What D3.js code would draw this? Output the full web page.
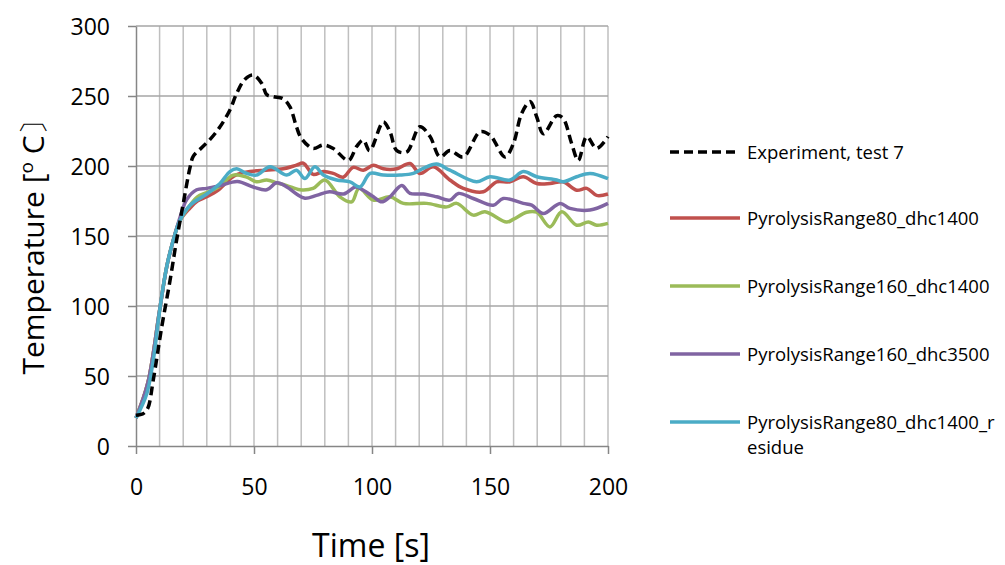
<!DOCTYPE html>
<html>
<head>
<meta charset="utf-8">
<script src="https://cdn.jsdelivr.net/npm/d3@7"></script>
<style>
  body { margin: 0; background: #fff; }
  text { font-family: "Open Sans", "Liberation Sans", sans-serif; fill: #000; }
</style>
</head>
<body>
<div id="chart"></div>
<script>
// Series data: [time (s), temperature (C)]
var experiment = [[0,22],[3,23],[5,27],[7.3,47],[10.9,85],[14.4,118],[17.2,147],[20,173],[22.9,199],[24.3,207],[27.8,213],[31.4,219],[35.6,228],[39.8,240],[42.7,252],[46.2,262],[49.7,265],[53.3,259],[55.4,251],[58.2,249.5],[62.4,248],[65.3,242],[68,228],[70,220],[75,212.5],[79.4,215],[83.6,212.5],[90,204],[93.5,214],[96.3,218.5],[99,211],[104.8,231.5],[107.6,224.5],[110.5,211],[114.7,210],[120.3,228],[124.6,221],[128.8,206.5],[133,211],[138.7,206.5],[145.8,224.5],[150,222],[156.4,206.5],[159.9,216],[163.4,237.5],[167,246],[169.8,235],[172.6,223],[178.3,236],[181,234],[184.6,216],[187.4,204],[191,221],[195.2,212.6],[200,221]];

var range80 = [[0,20],[5,45],[10,97],[13,128],[15.8,147],[18.6,161],[22.9,170],[26,175],[30,178],[35,183],[40,191],[43,194],[48.3,196],[55,197],[62.4,198],[68,200.6],[70.9,202],[75.1,194],[79.4,196],[83.6,194.7],[87.8,192],[92,199],[96.3,197],[100.6,200.5],[104.8,198],[110.5,198],[116.1,201.8],[120.3,194.7],[126,199.4],[133,190],[138.7,184],[147.2,181.6],[152.8,188.7],[158.5,188.7],[164.1,192.3],[169.8,187.5],[175.4,187.5],[181,188.7],[186.7,182.7],[191,184],[195.2,179],[200,180]];

var range160 = [[0,20],[5,45],[10,97],[13,128],[15.8,147],[18.6,161],[22.9,172],[26,178],[30,181],[35,185],[41.2,193.5],[46.9,192],[51.1,188.7],[55.4,190],[59.6,188],[63.9,186],[69.5,183],[75,184],[80,190],[86.4,178],[91.4,174.4],[94.5,184],[100.6,175.6],[107.6,178],[113.3,173.3],[123.2,173.3],[131.7,170.8],[135.9,173.3],[142.9,164.9],[147.9,167.3],[157,160],[160,162],[165.5,167],[169.8,167],[175.4,156.5],[180.4,167.3],[186.7,157.7],[191.7,160],[195.2,157.7],[200,159]];

var range160dhc3500 = [[0,20],[5,45],[10,97],[13,128],[15.8,147],[18.6,163],[21.5,176],[25.7,183],[30,184],[35.6,186],[43,189],[49.7,185],[55.4,183],[59.6,188],[63.9,185],[68,180],[71.6,177],[76.5,179],[82,181.6],[88,180],[93,185],[96.3,182.7],[100.6,178],[104.1,174.4],[107.6,178],[112.6,186],[116.1,180.4],[121.7,180],[127.4,178],[133,175.6],[136.6,180.4],[142.9,176.8],[151.4,172],[155.6,176.8],[164.1,173.3],[167.7,172],[172.6,166],[179.7,173.3],[183.9,169.7],[192.4,168.5],[200,173.3]];

var range80residue = [[0,20],[4.5,37],[7.3,61],[10.2,99],[13,128],[15.8,147],[18.6,161],[22.9,172],[30,180],[35.6,187.5],[39.8,196],[42.7,198],[46.5,195],[51,193.5],[56.8,199.4],[63.9,193.5],[68,197],[71.6,191],[75.8,199.4],[79.4,193.5],[85,190],[90.7,188.7],[94.9,185],[99.2,194.7],[104.8,193.5],[111.9,193.5],[117.5,194.7],[121.7,198.3],[127.4,201.4],[133,197],[144.3,188.7],[150,192.3],[158.5,190],[164.1,196],[169.8,192.3],[178.3,190],[181,188.7],[186.7,192.3],[192.4,194.7],[200,191]];

var seriesNames = ["Experiment, test 7", "PyrolysisRange80_dhc1400", "PyrolysisRange160_dhc1400",
                   "PyrolysisRange160_dhc3500", "PyrolysisRange80_dhc1400_residue"];
var seriesColors = ["#000000", "#C0504D", "#9BBB59", "#8064A2", "#4BACC6"];
var xTicks = [0, 50, 100, 150, 200];
var yTicks = [0, 50, 100, 150, 200, 250, 300];

var w = 1005, h = 565;
var margin = { left: 136, top: 26, right: 397, bottom: 119 };

var svg = d3.select("#chart").append("svg")
    .attr("width", w)
    .attr("height", h);

var x = d3.scaleLinear().domain([0, 200]).range([margin.left, w - margin.right]);
var y = d3.scaleLinear().domain([0, 300]).range([h - margin.bottom, margin.top]);

// vertical gridlines every 10 s
svg.append("g")
    .selectAll("line")
    .data(d3.range(10, 201, 10))
    .enter()
    .append("line")
    .attr("x1", function (d) { return x(d); })
    .attr("x2", function (d) { return x(d); })
    .attr("y1", y(0))
    .attr("y2", y(300))
    .attr("stroke", "#bfbfbf")
    .attr("stroke-width", 1.5);

// horizontal gridlines
svg.append("g")
    .selectAll("line")
    .data(yTicks.slice(1))
    .enter()
    .append("line")
    .attr("x1", x(0))
    .attr("x2", x(200))
    .attr("y1", function (d) { return y(d); })
    .attr("y2", function (d) { return y(d); })
    .attr("stroke", "#a6a6a6")
    .attr("stroke-width", 1.5);

// axes
var xAxis = svg.append("g")
    .attr("transform", "translate(0," + y(0) + ")")
    .call(d3.axisBottom(x).tickValues(xTicks).tickSize(8).tickPadding(25).tickSizeOuter(0));
var yAxis = svg.append("g")
    .attr("transform", "translate(" + x(0) + ",0)")
    .call(d3.axisLeft(y).tickValues(yTicks).tickSize(8).tickPadding(18).tickSizeOuter(0));

[xAxis, yAxis].forEach(function (a) {
    a.select(".domain").attr("stroke", "#868686").attr("stroke-width", 1.5);
    a.selectAll(".tick line").attr("stroke", "#868686").attr("stroke-width", 1.5);
    a.selectAll(".tick text").style("font-size", "23px").attr("fill", "#000")
        .style("font-family", "'Open Sans', sans-serif");
});
yAxis.selectAll(".tick text").attr("dy", "0.35em");

// lines
var line = d3.line()
    .x(function (d) { return x(d[0]); })
    .y(function (d) { return y(d[1]); })
    .curve(d3.curveCatmullRom.alpha(0.5));

var allSeries = [experiment, range80, range160, range160dhc3500, range80residue];

// draw solid lines first, experiment on top
[1, 2, 3, 4, 0].forEach(function (i) {
    svg.append("path")
        .datum(allSeries[i])
        .attr("d", line)
        .attr("fill", "none")
        .attr("stroke", seriesColors[i])
        .attr("stroke-width", 3.5)
        .attr("stroke-linejoin", "round")
        .attr("stroke-dasharray", i === 0 ? "9,5" : null);
});

// axis titles
svg.append("text")
    .attr("x", 371)
    .attr("y", 557)
    .attr("text-anchor", "middle")
    .style("font-size", "32px")
    .text("Time [s]");

var yt = svg.append("text")
    .attr("transform", "translate(44,240) rotate(-90)")
    .attr("text-anchor", "middle")
    .style("font-size", "30px");
yt.append("tspan").text("Temperature [");
yt.append("tspan").attr("dy", "-11").style("font-size", "19px").text("o");
yt.append("tspan").attr("dy", "11").text(" C\u3015");

// legend
var legendY = [152, 218, 286, 354, 422];
var legend = svg.append("g");
seriesNames.forEach(function (name, i) {
    legend.append("line")
        .attr("x1", 670)
        .attr("x2", 740)
        .attr("y1", legendY[i])
        .attr("y2", legendY[i])
        .attr("stroke", seriesColors[i])
        .attr("stroke-width", 3.5)
        .attr("stroke-dasharray", i === 0 ? "9,5" : null);
    var t = legend.append("text")
        .attr("x", 747)
        .attr("y", legendY[i] + 7)
        .style("font-size", "18.5px");
    if (name.length > 26) {
        t.append("tspan").text(name.slice(0, 26));
        t.append("tspan").attr("x", 747).attr("dy", "25").text(name.slice(26));
    } else {
        t.text(name);
    }
});
</script>
</body>
</html>
